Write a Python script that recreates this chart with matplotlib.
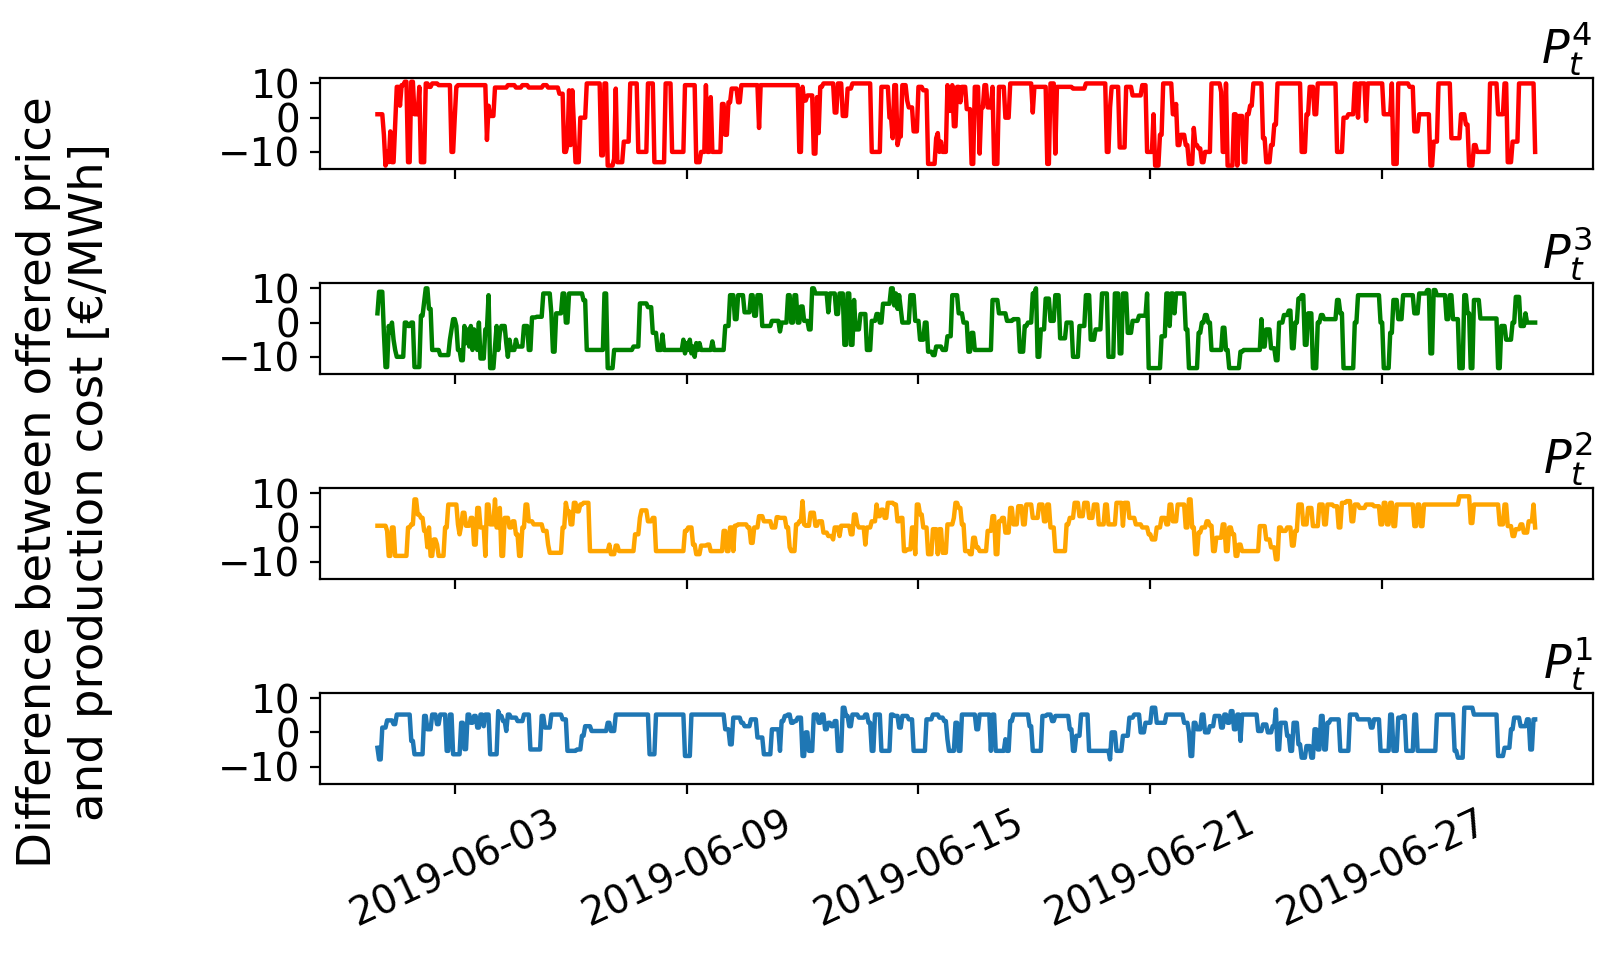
import numpy as np
import pandas as pd
import matplotlib
matplotlib.use("Agg")
import matplotlib.pyplot as plt
import matplotlib.dates as mdates

# hourly data for June 2019, stored as (start hour, level) steps
HOURS = pd.date_range("2019-06-01 00:00", periods=720, freq="h")

P4_STEPS = [
    (0, 1), (4, -5), (5, -14), (6, -10), (7, -13), (8, -4), (9, -13), (11, -2), (12, 9), (14, 3.5),
    (15, 9.5), (17, 10.5), (19, -13), (21, 10.5), (23, 1), (26, 9), (27, -13), (30, 10), (32, 9), (34, 10),
    (38, 9.5), (46, -10), (48, 0), (49, 9), (50, 9.5), (68, -6.5), (69, 3.5), (70, 0.5), (73, 8.8), (81, 9.5),
    (86, 8.8), (90, 9.5), (94, 8.8), (103, 9.5), (106, 8.8), (113, 7), (116, -10), (118, -8), (119, 8), (120, -8),
    (121, 8), (122, -2), (123, -13), (126, 0), (130, 10), (139, -11), (141, 10), (143, -14), (147, -12), (148, 8.5),
    (149, -13), (153, -7), (157, 10), (162, -10), (168, 10), (172, -13), (179, 10), (183, -10), (191, 9.5), (198, -13),
    (201, -10), (204, 9.5), (205, -10), (207, 6), (208, -10), (214, 4), (216, -5), (218, 4.5), (220, 8.5), (224, 4.5),
    (226, 9.5), (237, -3), (238, 9.5), (262, -10), (264, 9), (265, 5), (267, 6.5), (271, -10.5), (273, 6), (274, -4.5),
    (275, 9), (277, 10), (284, 1.5), (286, 10), (289, 0.5), (292, 8.5), (295, 10), (307, -10), (313, 9), (318, 0),
    (320, -6), (321, 9.5), (323, -8), (324, -5.5), (326, 9.5), (329, 5), (330, 3), (333, -4), (336, 9), (339, 8),
    (342, -13.5), (347, -6), (348, -4.5), (349, -10), (350, -7), (351, -10), (354, 9.5), (355, 2), (357, 9.5), (358, -2.5),
    (360, 9), (362, 4.5), (363, 9), (366, 2.5), (369, -13.5), (371, 9), (374, -10.5), (375, 3), (377, 9.5), (379, 3),
    (382, 9), (383, -13.5), (386, 9), (390, 0), (393, 10), (407, 1.5), (408, 9), (416, -13.5), (418, 10), (421, -10.5),
    (422, 9), (432, 8.5), (440, 10), (453, -10), (455, 3), (456, 9), (461, -8.7), (465, 9), (469, 6.5), (475, 9.5),
    (478, -10), (482, 1), (483, -14), (486, -5), (488, 10), (494, 1), (496, 4), (497, -8), (499, -5), (502, -8),
    (504, -13.5), (507, -3), (508, -8), (510, -9), (512, -13), (514, -10), (518, 10), (524, 7.5), (525, -10), (527, 10),
    (528, -14), (532, 1), (534, -14), (535, 0.5), (538, -13), (540, 1), (542, 3.5), (544, 10), (550, -6), (552, -13),
    (555, -8), (557, -2), (559, 10), (574, -10), (577, 1), (579, 9), (582, 1), (584, 10), (596, -10), (600, 0),
    (603, 1), (607, 10), (609, 0), (610, 10), (614, -1), (615, 10), (625, 1), (630, 10), (631, -13.5), (634, 10),
    (641, 9), (644, -4), (647, 1), (654, -14), (656, -7), (659, 10), (667, -6), (673, 1), (676, -2), (678, -14),
    (681, -8), (683, -10), (691, 10), (696, 1), (700, 10), (702, -13), (705, -7), (709, 10), (719, -10),
]

P3_STEPS = [
    (0, 2.7), (1, 9), (4, -3), (5, -13), (7, -1), (8, -3), (9, 0), (10, -5), (11, -8), (12, -10),
    (17, 0), (19, -1), (21, 0), (23, -13), (27, 2), (29, 6), (30, 10), (32, 4), (34, -8), (39, -9.5),
    (45, -5), (46, -2), (47, 1), (49, -1), (50, -8), (52, -11), (54, -1), (55, -6), (56, -2), (57, -7),
    (58, -1), (59, -8), (60, -2), (61, -4), (62, -8), (63, 0), (64, -10.5), (67, -2), (69, 8), (70, -13.3),
    (73, -7), (74, -1), (75, -8), (76, -3), (77, -1), (80, -6), (81, -10), (82, -5), (83, -8), (86, -5),
    (87, -7), (91, -1), (94, -8), (96, 1.5), (99, 1.7), (103, 8.5), (108, 2.7), (109, -8.5), (111, 2.7), (115, 8.5),
    (117, 0), (119, 8.5), (128, 6.5), (130, -8), (141, 8.5), (143, -13.3), (147, -8), (159, -7), (163, 5.6), (168, 4.5),
    (171, -3), (174, -8), (177, -3.5), (178, -8), (190, -5), (191, -9), (192, -6), (193, -8), (194, -5), (195, -9),
    (196, -7), (197, -10), (198, -6), (199, -8), (200, -6), (201, -8), (208, -5.5), (209, -8), (216, -1), (219, 8),
    (222, 1), (224, 8), (228, 3), (232, 8), (234, 2), (236, 8), (239, -1), (245, 0.5), (250, -2.6), (251, 0),
    (255, 8), (257, 0), (259, 8), (261, 0), (263, 4.7), (265, 0.5), (268, -2), (270, 10), (272, 8.5), (280, 3),
    (281, 8.5), (285, 2.5), (287, 8.5), (290, -6.5), (292, 8.5), (294, -6.5), (296, 6.6), (297, -2), (300, 2.5), (304, -8),
    (307, 0.5), (310, 2.5), (312, 0), (314, 5.5), (319, 10), (321, 5), (322, 8.5), (323, 4), (324, 8), (325, 4),
    (326, 0), (331, 8), (334, 0.5), (337, -5), (340, 0), (342, -8.5), (345, -9.5), (347, -7), (351, -8), (354, -4),
    (357, 8), (361, 2.7), (364, 0), (367, -8.5), (369, -3), (371, -8), (382, 6.6), (386, 2.7), (391, 0.5), (395, 1),
    (399, -8.5), (402, -1), (404, 0), (407, 8.5), (409, 10), (410, -10), (412, -2), (415, 7), (418, 0.5), (421, 8),
    (424, -4.6), (428, 0), (432, -10), (436, -1), (440, 8), (443, -5), (446, -2), (450, 8.5), (454, -10), (458, 8.5),
    (461, -9), (463, 8.5), (466, -3), (469, 0.5), (473, 2), (478, 8.5), (479, -13.3), (487, -4), (490, 8.5), (492, -1),
    (493, 8.5), (495, 2.7), (496, 8.5), (502, -2), (504, -13.3), (510, -3), (512, 0), (514, 2.2), (516, 0), (518, -8),
    (525, -1.5), (527, -8), (529, -13.3), (536, -8.5), (538, -8), (549, 1), (550, -7), (552, -2), (555, -7.5), (558, -11),
    (560, 0), (563, 2.2), (566, 3.5), (568, -7.5), (570, 0), (572, 7), (574, 8), (576, -6.5), (578, 2.7), (581, -13.3),
    (584, 0), (586, 2.2), (588, 1), (596, 6.6), (598, 2.7), (600, -13.3), (607, 0), (609, 8), (623, 0), (625, -13.3),
    (629, -3), (631, 6.6), (634, 1), (637, 8), (644, 2.7), (647, 8.5), (652, 9.5), (654, -9), (656, 9.5), (658, 8),
    (664, 1), (666, 8), (668, 1), (672, -13.3), (675, 8), (677, 2.7), (679, -13.3), (681, 6.6), (685, 1.2), (696, -13.3),
    (698, -1), (701, -5), (705, 0), (707, 7.5), (710, -1), (713, 2.7), (714, 0),
]

P2_STEPS = [
    (0, 0.5), (6, -1), (7, -8.3), (9, 0), (11, -8.3), (19, 0), (21, 0.9), (23, 8.2), (25, 3.8), (27, 2.8),
    (29, -1), (31, -5.8), (32, 0), (33, -8.3), (35, -3.5), (37, -5), (38, -8.3), (42, 0), (44, 6.7), (50, 0.9),
    (51, -2), (52, 0.5), (53, 4.3), (55, 0.5), (58, 2.8), (60, -5), (62, 5.7), (64, 0), (67, -8.3), (68, 6.7),
    (70, 0.9), (73, 8.2), (74, 0), (76, 5.7), (77, -8.3), (79, 2.8), (82, 0), (84, 1.8), (86, -2), (88, -8.3),
    (90, 0), (92, 6.7), (94, 1.8), (97, 0.9), (103, -1), (106, -5), (107, -7.4), (115, 0), (117, 7.2), (118, 4.7),
    (120, 0.9), (122, 7.2), (124, 4.7), (126, 6.7), (128, 7.2), (132, -6.9), (144, -5), (145, -7.8), (148, -5.3), (150, -6.9),
    (160, -2), (163, 2.8), (164, 5), (168, 1.8), (171, 2.8), (173, -6.9), (191, -1), (193, 0), (196, -5), (198, -7.8),
    (201, -5.3), (205, -5), (207, -6.9), (215, -1), (217, -6.9), (219, 0), (221, -6.9), (222, 0.5), (224, 0.9), (230, 0),
    (232, -4.5), (234, 0), (237, 3.3), (240, 1.8), (245, 0), (248, 3), (250, 2.8), (254, 0), (256, -5.8), (257, -6.9),
    (260, 0.9), (262, 1.8), (264, 7.7), (265, 0.9), (266, 0.5), (269, 4.3), (272, 0.5), (274, 1.8), (277, -1.5), (280, -2.5),
    (283, -3.5), (284, 0), (287, -2.5), (288, 0.5), (294, -2), (296, 3.8), (298, 0.9), (299, 0), (303, -5), (304, 0),
    (307, 1.8), (310, 6.7), (311, 3.3), (313, 5.2), (315, 2.8), (317, 7.2), (321, 6.7), (323, 1.8), (325, 2.8), (327, -6.9),
    (329, -6.4), (332, 0), (334, -7.8), (335, 6.7), (337, 3.8), (339, 0), (342, -7.8), (345, -0.5), (348, -7.8), (349, -0.5),
    (351, -7.4), (354, 0.9), (358, 2.8), (359, 7.2), (361, 5.7), (363, 0.9), (365, -6.9), (368, -7.8), (370, -3), (372, -5.8),
    (374, -6.9), (379, -1), (382, 3.3), (384, -7.8), (386, 1.8), (388, 2.8), (390, -1.5), (393, 5.7), (395, 0.9), (398, 6.2),
    (401, 0.9), (403, 6.7), (407, 2.8), (411, 6.7), (414, 1.8), (416, 6.7), (418, 0), (421, -6.9), (428, 0.9), (430, 2.8),
    (433, 7.2), (436, 3.3), (439, 7.2), (442, 2.8), (445, 6.7), (448, 0.9), (452, 6.7), (454, 0.9), (459, 7.2), (463, 0.5),
    (464, 7.2), (467, 2.8), (471, 0.9), (475, 0), (479, -2), (481, -3.5), (484, 0), (487, 2.8), (490, 0.9), (492, 6.7),
    (494, 1.8), (497, 6.7), (502, 0), (504, 8.2), (506, 0), (508, -7.8), (510, -1.5), (512, 0), (515, 1.8), (517, 0.5),
    (519, -6.9), (521, -3), (525, 0.9), (527, -6.9), (529, 0), (531, -2), (533, -8.3), (535, -5), (537, -6.9), (548, 0.4),
    (552, -3.5), (555, -5.8), (558, -9.3), (560, 0), (562, -1), (565, 0), (568, -5.3), (570, -1), (572, 6.7), (575, 0.9),
    (578, 5.7), (581, 0.4), (585, 6.7), (588, 0.9), (590, 6.7), (594, 6.2), (597, 0), (599, 7.2), (602, 7.7), (605, 1.8),
    (607, 6.7), (610, 5.7), (614, 6.7), (619, 6.2), (623, 0.9), (625, 7.2), (627, 0.9), (629, 7.2), (631, 0.4), (633, 6.7),
    (644, 0.4), (646, 6.7), (648, 0.4), (650, 6.7), (672, 9.1), (679, 1.3), (681, 6.7), (697, 0.9), (700, 6.7), (702, 0.4),
    (705, -2.5), (707, -0.5), (710, 0.9), (712, -1.5), (715, 1.8), (718, 6.7), (719, 0),
]

P1_STEPS = [
    (0, -4.5), (1, -7.9), (3, 1.4), (6, 3.5), (10, 2.4), (12, 5.2), (21, -2.5), (23, -6.4), (29, 4.8), (31, 0.9),
    (34, 5.2), (37, 2.4), (39, 5.2), (43, -5.4), (45, 5.2), (47, -6.4), (52, 2.8), (54, -4.9), (56, 5.2), (58, 2.8),
    (60, 4.8), (62, 1.4), (64, 5.2), (66, 1.8), (67, 5.2), (70, -6.4), (75, 6.2), (76, 4.8), (78, 3.3), (80, 0.4),
    (81, 5.2), (83, 4.3), (87, 3.3), (91, 5.2), (95, -5), (102, 4.8), (104, 1.4), (108, 5.2), (115, 3.8), (118, -5.4),
    (124, -5), (127, -1), (129, 1.8), (133, 0.4), (143, 2.8), (145, 0.4), (148, 5.2), (169, -6.4), (173, 5.2), (191, -6.9),
    (195, 5.2), (216, 0.9), (219, -3.5), (221, 4.3), (226, 2.8), (228, 1.8), (232, 3.8), (236, -1.5), (240, -6.4), (245, 0.9),
    (250, -5.4), (251, 3.3), (253, 4.8), (255, 5.2), (257, 2.8), (259, 3.3), (261, 4.3), (264, -6.9), (266, 0), (268, -5.4),
    (271, 5.2), (274, 2.8), (276, 5.2), (278, 0.9), (280, 2.8), (282, 1.8), (284, 3.3), (286, -5.4), (289, 7.2), (291, 4.8),
    (293, 1.8), (295, 5.2), (299, 4.3), (303, 5.2), (305, 2.8), (307, -5.4), (309, 5.2), (313, -5.4), (319, 5.2), (321, 4.8),
    (324, 1.4), (326, 4.8), (330, 3.8), (333, -5.4), (341, 3.8), (345, 5.2), (349, 4.3), (352, 3.3), (354, -2), (355, -5.4),
    (359, 2.8), (361, -5.4), (363, 5.2), (372, 0.9), (374, 5.2), (381, -5.4), (382, 5.2), (384, -5.4), (390, -2), (391, -5.4),
    (393, 3.3), (395, 5.2), (405, 1.8), (407, -5.4), (413, 4.8), (416, 5.2), (419, 3.3), (421, 4.8), (430, 0.9), (432, -5.4),
    (434, -1), (437, 5.2), (442, -5.4), (455, -7.9), (456, 0), (459, -5.4), (463, -1), (467, 4.3), (470, 5.2), (474, 0),
    (477, 2.8), (481, 7.2), (484, 2.8), (490, 5.2), (501, 2.8), (504, 0), (505, -6.9), (507, 2.8), (509, 0.9), (512, 5.2),
    (514, 0), (517, 1.8), (520, 4.8), (524, 1.4), (526, 5.2), (528, 2.8), (530, 6.2), (532, 0.9), (534, 5.2), (536, -2.5),
    (537, 5.2), (547, 0.4), (550, 2.3), (553, 0), (556, 1.8), (558, 6.7), (559, -5), (561, 2.8), (565, -1), (567, -5.4),
    (569, 2.8), (572, -3.5), (574, -7.4), (577, -4), (580, -7.4), (582, 0.9), (584, -5), (586, 4.8), (588, -5), (590, 2.8),
    (592, 3.8), (598, -5.4), (604, 5.2), (609, 3.8), (617, 1.4), (619, 3.8), (623, -5.4), (629, 5.2), (631, -5.4), (634, 4.3),
    (637, 4.8), (639, -5.4), (644, 5.2), (646, -5.4), (658, 5.2), (669, -5.4), (671, -7.4), (675, 7.2), (681, 5.2), (696, -6.9),
    (700, -4.5), (704, 0.9), (706, 4.3), (710, 1.8), (714, 3.8), (716, -5), (718, 3.8),
]

PANELS = [("$P_t^4$", P4_STEPS, "red"),
          ("$P_t^3$", P3_STEPS, "green"),
          ("$P_t^2$", P2_STEPS, "orange"),
          ("$P_t^1$", P1_STEPS, "#1f77b4")]


def expand(steps):
    starts = [s for s, _ in steps] + [len(HOURS)]
    levels = [v for _, v in steps]
    return np.repeat(levels, np.diff(starts))


fig, axes = plt.subplots(4, 1, figsize=(8.07, 4.775), dpi=200, sharex=True)
fig.subplots_adjust(left=0.198, right=0.987, top=0.918, bottom=0.179, hspace=1.25)

for ax, (title, steps, color) in zip(axes, PANELS):
    ax.plot(HOURS, expand(steps), color=color, linewidth=1.6)
    ax.set_title(title, loc="right", fontsize=16.5, pad=2)
    ax.set_yticks([-10, 0, 10])
    ax.set_ylim(-15.1, 11.5)
    ax.tick_params(labelsize=14)

axes[-1].xaxis.set_major_locator(mdates.DayLocator(bymonthday=[3, 9, 15, 21, 27]))
axes[-1].xaxis.set_major_formatter(mdates.DateFormatter("%Y-%m-%d"))
plt.setp(axes[-1].get_xticklabels(), rotation=25, ha="center")

fig.text(0.04, 0.495, "Difference between offered price\nand production cost [€/MWh]",
         rotation=90, va="center", ha="center", multialignment="center", fontsize=16.8)

fig.savefig("out.png", dpi=200)
